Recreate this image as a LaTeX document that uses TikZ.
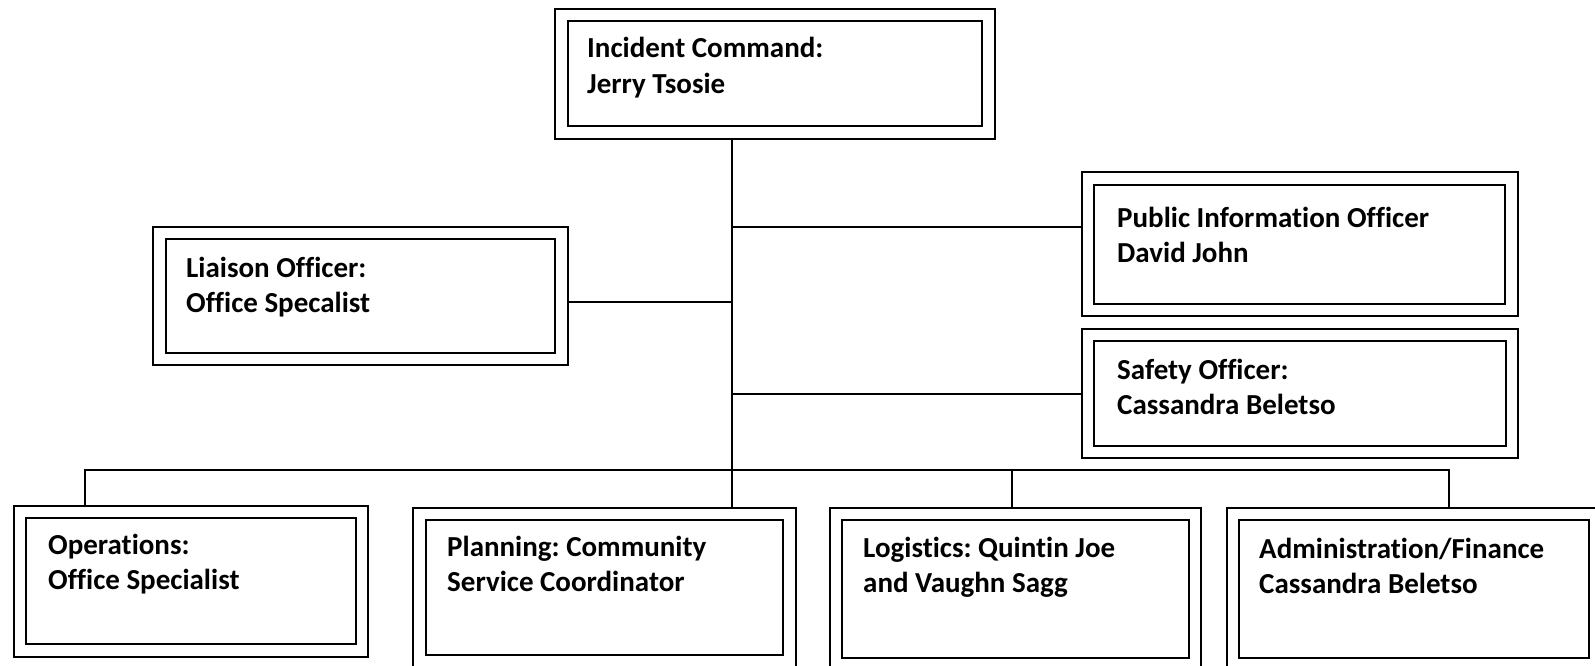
\documentclass[tikz,border=0pt]{standalone}
\usepackage{fontspec}
\setmainfont{Carlito}[Ligatures={NoCommon}]
\frenchspacing
\usetikzlibrary{backgrounds}
\begin{document}
\begin{tikzpicture}[x=1pt,y=-1pt,
  box/.style={draw, line width=2.1pt, double, double distance=10.5pt, rectangle, inner sep=0pt, anchor=north west},
  lbl/.style={anchor=base west, align=left, font=\frenchspacing\bfseries\fontsize{29}{35.5}\selectfont, inner sep=0pt},
  conn/.style={line width=1.9pt}]
\useasboundingbox (0,0) rectangle (1595,666);
% boxes
\node[box, minimum width=427pt, minimum height=117.5pt] (ic) at (560.5,14) {};
\node[box, minimum width=402pt, minimum height=126pt] (lia) at (158.5,232) {};
\node[box, minimum width=423.5pt, minimum height=131.5pt] (pio) at (1087,177.5) {};
\node[box, minimum width=424pt, minimum height=117pt] (saf) at (1087,334) {};
\node[box, minimum width=342pt, minimum height=138.5pt] (ops) at (19,511) {};
\node[box, minimum width=370pt, minimum height=147pt] (plan) at (418.5,513) {};
\node[box, minimum width=359pt, minimum height=150.5pt] (log) at (835,513) {};
\node[box, minimum width=362pt, minimum height=150.5pt] (adm) at (1232,513) {};
% texts (anchor = baseline of the last line)
\node[lbl] (ict) at (587,93.5) {Incident Command:\\Jerry Tsosie};
\node[lbl] (liat) at (186,312.5) {Liaison Officer:\\Office Specalist};
\node[lbl] (piot) at (1117,262.5) {Public Information Officer\\David John};
\node[lbl] (saft) at (1117,414.5) {Safety Officer:\\Cassandra Beletso};
\node[lbl] (opst) at (48,589.5) {Operations:\\Office Specialist};
\node[lbl] (plant) at (447,591.5) {Planning: Community\\Service Coordinator};
\node[lbl] (logt) at (863,592.5) {Logistics: Quintin Joe\\and Vaughn Sagg};
\node[lbl] (admt) at (1259,593.5) {Administration/Finance\\Cassandra Beletso};
% junction coordinates
\coordinate (trunk) at (732,470);
\coordinate (pioj) at (732,227);
\coordinate (liaj) at (732,302);
\coordinate (safj) at (732,394);
\coordinate (busL) at (85,470);
\coordinate (busR) at (1449,470);
\coordinate (logj) at (1012,470);
\begin{scope}[on background layer]
\draw[conn] (ic.south -| trunk) -- (trunk |- plan.north);
\draw[conn] (pioj) -- (pioj -| pio.west);
\draw[conn] (safj) -- (safj -| saf.west);
\draw[conn] (liaj -| lia.east) -- (liaj);
\draw[conn] (busL |- ops.north) -- (busL) -- (busR) -- (busR |- adm.north);
\draw[conn] (logj) -- (logj |- log.north);
\end{scope}
\end{tikzpicture}
\end{document}
